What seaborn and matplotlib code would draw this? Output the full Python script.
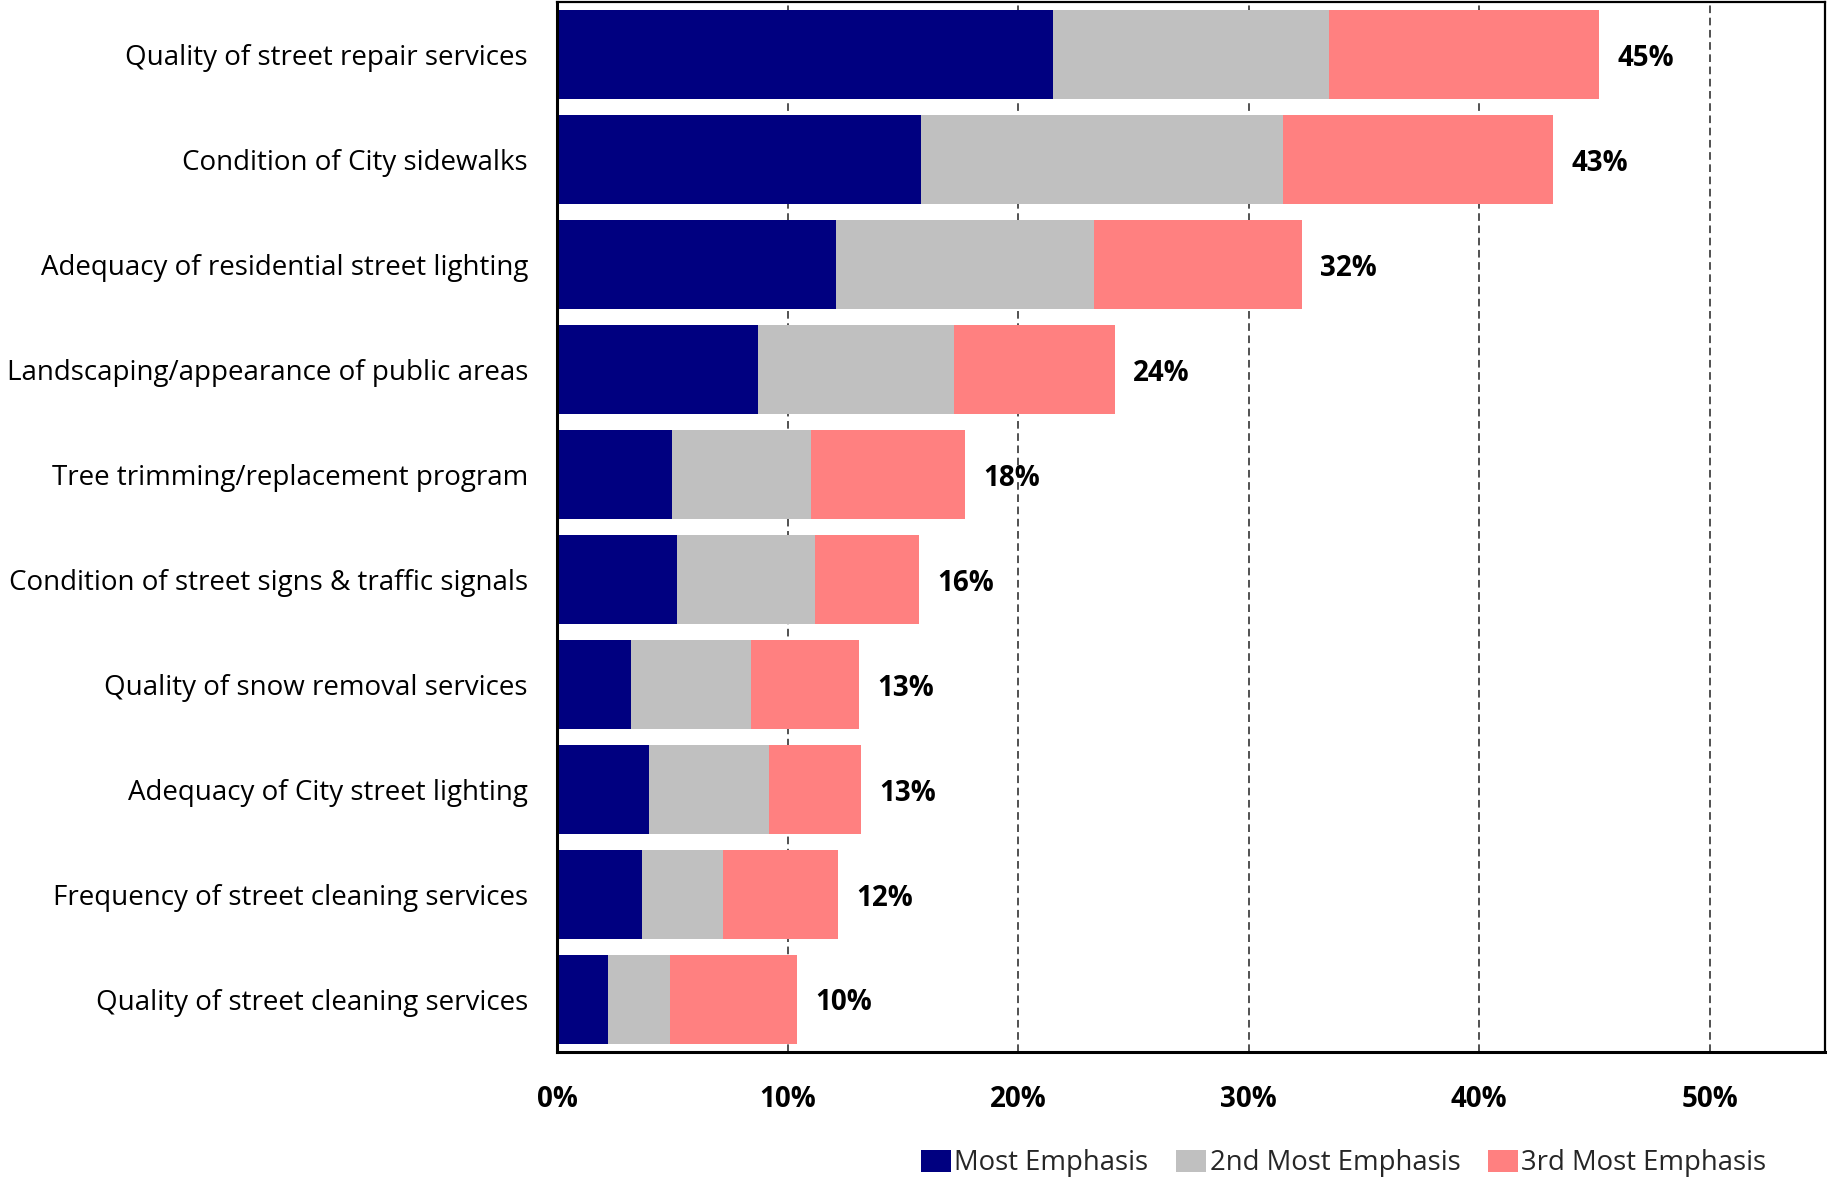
import matplotlib
matplotlib.use("Agg")
import matplotlib.pyplot as plt
import seaborn as sns
import numpy as np
import pandas as pd

categories = [
    "Quality of street repair services",
    "Condition of City sidewalks",
    "Adequacy of residential street lighting",
    "Landscaping/appearance of public areas",
    "Tree trimming/replacement program",
    "Condition of street signs & traffic signals",
    "Quality of snow removal services",
    "Adequacy of City street lighting",
    "Frequency of street cleaning services",
    "Quality of street cleaning services",
]
most_emphasis = [21.5, 15.8, 12.1, 8.7, 5.0, 5.2, 3.2, 4.0, 3.7, 2.2]
second_emphasis = [12.0, 15.7, 11.2, 8.5, 6.0, 6.0, 5.2, 5.2, 3.5, 2.7]
third_emphasis = [11.7, 11.7, 9.0, 7.0, 6.7, 4.5, 4.7, 4.0, 5.0, 5.5]
series_names = ["Most Emphasis", "2nd Most Emphasis", "3rd Most Emphasis"]
series_colors = ["#000080", "#C0C0C0", "#FF8080"]
x_ticks = [0, 10, 20, 30, 40, 50]

sns.set_theme(style="white")
plt.rcParams["font.family"] = ["Open Sans", "DejaVu Sans"]

df = pd.DataFrame({
    "category": categories,
    "s1": most_emphasis,
    "s2": second_emphasis,
    "s3": third_emphasis,
})
df["c1"] = df["s1"]
df["c2"] = df["s1"] + df["s2"]
df["c3"] = df["c2"] + df["s3"]

fig = plt.figure(figsize=(18.27, 11.78), dpi=100)
ax = fig.add_axes([0.3049, 0.107, 0.694, 0.891])

# stacked bars: draw cumulative totals back to front
for col, color in zip(["c3", "c2", "c1"], series_colors[::-1]):
    sns.barplot(data=df, x=col, y="category", order=categories, color=color,
                width=0.85, saturation=1, edgecolor="none", linewidth=0,
                ax=ax, zorder=2)

# total labels at bar ends
for i, total in enumerate(df["c3"]):
    ax.annotate(f"{total:.0f}%", xy=(total, i), xytext=(13, 0),
                textcoords="offset points", ha="left", va="center_baseline",
                fontsize=20, fontweight="bold", color="black")

ax.set_xlim(0, 55)
ax.set_ylim(9.5, -0.5)
ax.set_xticks(x_ticks)
ax.set_xticklabels([f"{t}%" for t in x_ticks], fontsize=20, fontweight="bold")
ax.set_xlabel("")
ax.set_ylabel("")
ax.tick_params(axis="y", length=0, pad=21, labelsize=20, colors="black")
ax.tick_params(axis="x", length=0, pad=24, colors="black")

ax.xaxis.grid(True, linestyle=(0, (5, 3)), color="#222222", linewidth=1.1, zorder=0)
ax.yaxis.grid(False)
ax.set_axisbelow(True)
for side in ["left", "bottom", "top", "right"]:
    ax.spines[side].set_visible(True)
    ax.spines[side].set_color("black")
ax.spines["left"].set_linewidth(2.2)
ax.spines["bottom"].set_linewidth(2.2)
ax.spines["top"].set_linewidth(1.6)
ax.spines["right"].set_linewidth(1.6)

handles = [matplotlib.patches.Patch(facecolor=c, edgecolor="none") for c in series_colors]
fig.legend(handles, series_names, loc="center", bbox_to_anchor=(0.7355, 0.0125),
           ncol=3, frameon=False, fontsize=19.8, handlelength=1.1, handleheight=0.85,
           handletextpad=0.12, columnspacing=1.0, borderaxespad=0)

fig.savefig("out.png", dpi=100)
